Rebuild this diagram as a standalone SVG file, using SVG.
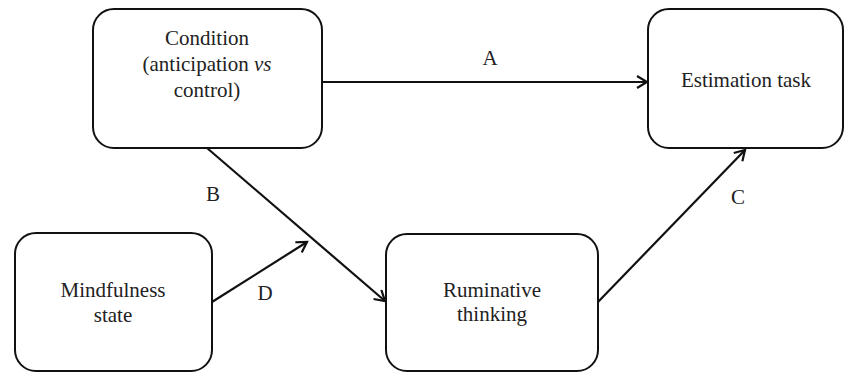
<svg xmlns="http://www.w3.org/2000/svg" width="846" height="373" viewBox="0 0 846 373">
<style>
.box{fill:#fff;stroke:#111;stroke-width:2}
.t{font-family:'Liberation Serif','Times New Roman',Times,'DejaVu Serif',serif;font-size:21px;fill:#222;text-anchor:middle}
.c{stroke:#111;stroke-width:2.2;fill:none;marker-end:url(#ah)}
</style>
<defs>
<marker id="ah" markerWidth="14" markerHeight="14" refX="11" refY="7" orient="auto" markerUnits="userSpaceOnUse">
<path d="M1,1 L11,7 L1,13" fill="none" stroke="#111" stroke-width="2.2"/>
</marker>
</defs>
<rect width="846" height="373" fill="#fff"/>
<g id="connectors">
<line class="c" x1="322" y1="82" x2="647" y2="82"/>
<line class="c" x1="207" y1="148" x2="385" y2="301"/>
<line class="c" x1="212" y1="302" x2="307" y2="242"/>
<line class="c" x1="598" y1="302" x2="745" y2="150"/>
<text class="t" x="490" y="65">A</text>
<text class="t" x="213" y="201">B</text>
<text class="t" x="738" y="204">C</text>
<text class="t" x="265" y="300">D</text>
</g>
<g id="condition">
<rect class="box" x="93" y="9" width="229" height="139" rx="21"/>
<text class="t" x="207" y="45">Condition</text>
<text class="t" x="207" y="71">(anticipation <tspan font-style="italic">vs</tspan></text>
<text class="t" x="207" y="97">control)</text>
</g>
<g id="estimation">
<rect class="box" x="648" y="9" width="195" height="139" rx="21"/>
<text class="t" x="746" y="87">Estimation task</text>
</g>
<g id="mindfulness">
<rect class="box" x="15" y="233" width="197" height="138" rx="21"/>
<text class="t" x="113" y="297">Mindfulness</text>
<text class="t" x="113" y="322">state</text>
</g>
<g id="ruminative">
<rect class="box" x="386" y="234" width="212" height="137" rx="21"/>
<text class="t" x="492" y="297">Ruminative</text>
<text class="t" x="492" y="321">thinking</text>
</g>
</svg>
